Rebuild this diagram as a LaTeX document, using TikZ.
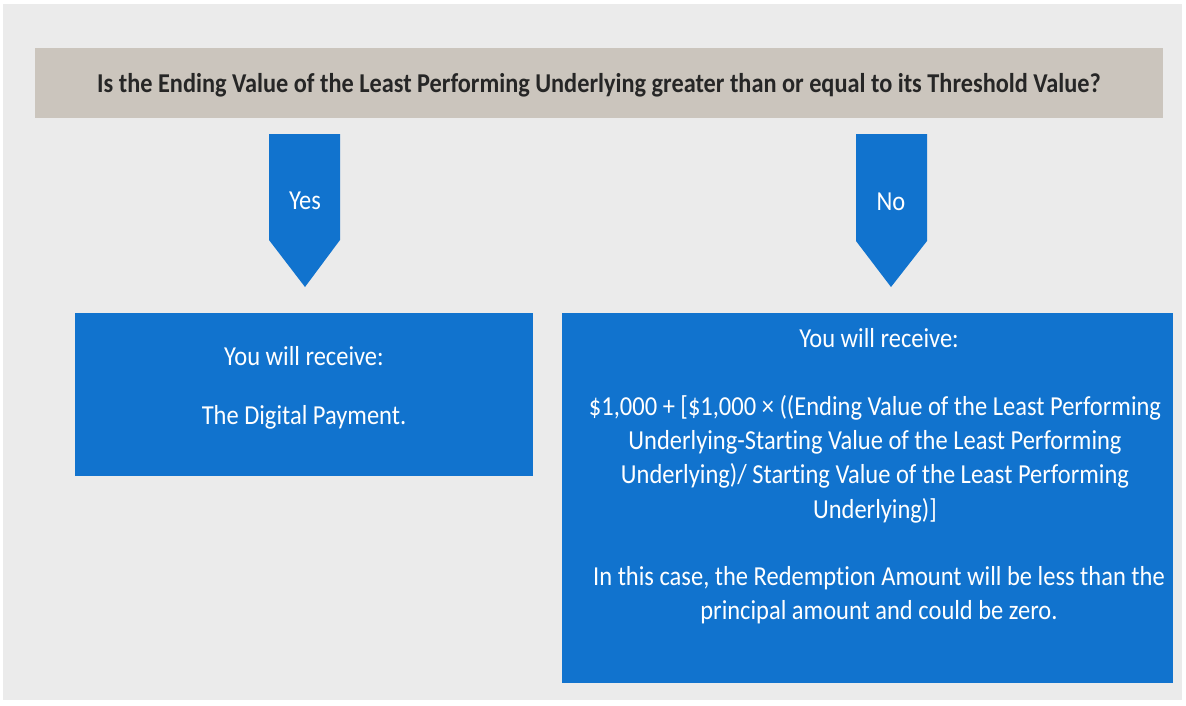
\documentclass[tikz,border=0pt]{standalone}
\usepackage{fontspec}
\setmainfont[RawFeature={-liga;-calt;-dlig;-clig}]{Carlito}
\definecolor{bgc}{RGB}{235,235,235}
\definecolor{hdr}{RGB}{203,197,189}
\definecolor{blu}{RGB}{17,115,206}
\begin{document}
\begin{tikzpicture}[x=1pt,y=-1pt,
  boxtxt/.style={text=white,font=\fontsize{24.5}{30.6}\selectfont,align=center,inner sep=0pt,transform shape,yscale=1.12},
  hdrtxt/.style={text=black!85,font=\fontsize{24.3}{27}\selectfont\bfseries,inner sep=0pt,transform shape,yscale=1.12}]
\useasboundingbox (0,0) rectangle (1186,705);
\fill[white] (0,0) rectangle (1186,705);
\fill[bgc] (3,4) rectangle (1182,700);
% header
\fill[hdr] (35,48) rectangle (1163,118);
\node[hdrtxt] (q) at (599,85) {Is the Ending Value of the Least Performing Underlying greater than or equal to its Threshold Value?};
% arrows
\fill[blu] (269,134) -- (340,134) -- (340,240) -- (305,287) -- (269,240) -- cycle;
\node[boxtxt] (yes) at (305,201) {Yes};
\fill[blu] (856,134) -- (927,134) -- (927,241) -- (891,287) -- (856,241) -- cycle;
\node[boxtxt] (no) at (891,202) {No};
% left box
\fill[blu] (75,313) rectangle (533,476);
\node[boxtxt] (l1) at (304,356) {You will receive:};
\node[boxtxt] (l2) at (304,417) {The Digital Payment.};
% right box
\fill[blu] (562,313) rectangle (1173,683);
\node[boxtxt] (r1) at (879,338) {You will receive:};
\node[boxtxt] (r2) at (875,459) {\$1,000 + [\$1,000 × ((Ending Value of the Least Performing\\Underlying-Starting Value of the Least Performing\\Underlying)/ Starting Value of the Least Performing\\Underlying)]};
\node[boxtxt] (r3) at (879,595) {In this case, the Redemption Amount will be less than the\\principal amount and could be zero.};
\end{tikzpicture}
\end{document}
